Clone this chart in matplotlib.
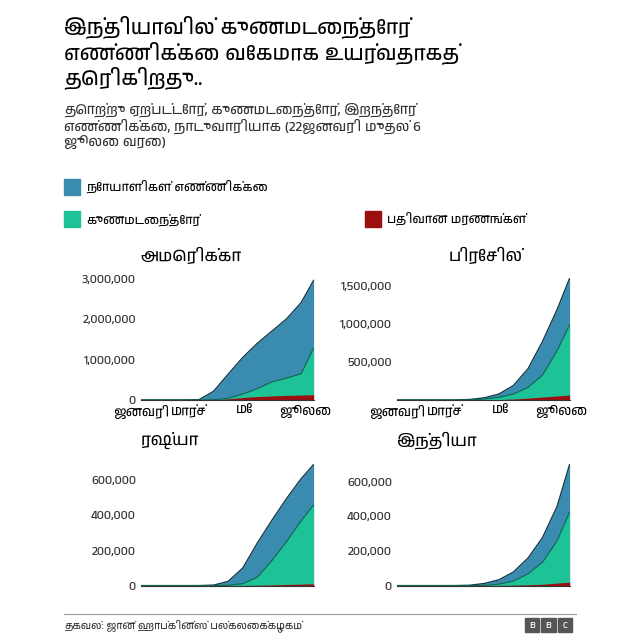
import matplotlib
matplotlib.use("Agg")
import matplotlib.pyplot as plt
import matplotlib.ticker as mticker
import pandas as pd
from matplotlib import font_manager

# pick a font that has Tamil glyphs if one is installed
tamil = [f.name for f in font_manager.fontManager.ttflist if "Tamil" in f.name]
plt.rcParams['font.family'] = tamil[:1] + ['Noto Sans', 'DejaVu Sans']

dates = pd.to_datetime(["2020-01-22", "2020-02-05", "2020-02-19", "2020-03-04", "2020-03-18",
                        "2020-04-01", "2020-04-15", "2020-04-29", "2020-05-13", "2020-05-27",
                        "2020-06-10", "2020-06-24", "2020-07-06"])

us_cases = [1, 12, 15, 150, 9000, 215000, 640000, 1050000, 1400000, 1700000, 2000000, 2400000, 2950000]
us_rec = [0, 0, 5, 8, 100, 8000, 40000, 150000, 280000, 450000, 540000, 650000, 1280000]
us_deaths = [0, 0, 0, 10, 150, 5000, 28000, 60000, 85000, 100000, 113000, 122000, 130000]

br_cases = [0, 0, 0, 3, 300, 6800, 28000, 78000, 190000, 410000, 770000, 1190000, 1600000]
br_rec = [0, 0, 0, 0, 2, 120, 14000, 35000, 79000, 166000, 330000, 650000, 990000]
br_deaths = [0, 0, 0, 0, 4, 240, 1700, 5500, 13000, 25000, 39000, 53000, 65000]

ru_cases = [0, 2, 2, 3, 147, 2800, 24000, 100000, 242000, 371000, 494000, 606000, 687000]
ru_rec = [0, 0, 2, 2, 8, 190, 1700, 11000, 48000, 143000, 250000, 368000, 458000]
ru_deaths = [0, 0, 0, 0, 0, 20, 200, 1000, 2200, 3700, 6400, 8500, 10300]

in_cases = [0, 3, 3, 28, 151, 1998, 12000, 33000, 78000, 158000, 276000, 456000, 697000]
in_rec = [0, 0, 3, 3, 14, 144, 1400, 8300, 26000, 68000, 135000, 258000, 424000]
in_deaths = [0, 0, 0, 0, 3, 58, 400, 1070, 2500, 4500, 7700, 14500, 19700]

countries = ["அமெரிக்கா", "பிரேசில்", "ரஷ்யா", "இந்தியா"]
series = [(us_cases, us_rec, us_deaths), (br_cases, br_rec, br_deaths),
          (ru_cases, ru_rec, ru_deaths), (in_cases, in_rec, in_deaths)]
yticks = [[0, 1000000, 2000000, 3000000], [500000, 1000000, 1500000],
          [0, 200000, 400000, 600000], [0, 200000, 400000, 600000]]
ylims = [3000000, 1600000, 690000, 700000]
month_ticks = pd.to_datetime(["2020-01-22", "2020-03-08", "2020-05-01", "2020-06-28"])
month_labels = ["ஜனவரி", "மார்ச்", "மே", "ஜூலை"]

c_case, c_rec, c_death = "#3a8bb0", "#1dc397", "#9b0f0f"

fig = plt.figure(figsize=(6.4, 6.4), dpi=100)
fig.text(0.1, 0.975, "இந்தியாவில் குணமடைந்தோர்\nஎண்ணிக்கை வேகமாக உயர்வதாகத்\nதெரிகிறது..",
         fontsize=15, fontweight="bold", va="top", linespacing=1.15)
fig.text(0.1, 0.84, "தொற்று ஏற்பட்டோர், குணமடைந்தோர், இறந்தோர்\nஎண்ணிக்கை, நாடுவாரியாக (22ஜனவரி முதல் 6\nஜூலை வரை)",
         fontsize=10, va="top", color="#333333", linespacing=1.1)

def legend_item(x, y, color, label):
    fig.patches.append(plt.Rectangle((x, y), 0.025, 0.025, color=color, transform=fig.transFigure))
    fig.text(x + 0.035, y + 0.012, label, fontsize=9, va="center")

legend_item(0.1, 0.695, c_case, "நோயாளிகள் எண்ணிக்கை")
legend_item(0.1, 0.645, c_rec, "குணமடைந்தோர்")
legend_item(0.57, 0.645, c_death, "பதிவான மரணங்கள்")

positions = [[0.22, 0.375, 0.27, 0.19], [0.62, 0.375, 0.27, 0.19],
             [0.22, 0.085, 0.27, 0.19], [0.62, 0.085, 0.27, 0.19]]
for i in range(4):
    ax = fig.add_axes(positions[i])
    cases, rec, deaths = series[i]
    ax.fill_between(dates, cases, color=c_case, lw=0)
    ax.plot(dates, cases, color="#123a4a", lw=1)
    ax.fill_between(dates, rec, color=c_rec, lw=0)
    ax.plot(dates, rec, color="#0c6b4f", lw=0.8)
    ax.fill_between(dates, deaths, color=c_death, lw=0)
    ax.set_xlim(dates[0], dates[-1])
    ax.set_ylim(0, ylims[i])
    ax.set_yticks(yticks[i])
    ax.yaxis.set_major_formatter(mticker.StrMethodFormatter("{x:,.0f}"))
    for s in ["top", "right", "left"]:
        ax.spines[s].set_visible(False)
    ax.spines["bottom"].set_color("#333333")
    ax.tick_params(axis="y", length=0, labelsize=9, colors="#333333")
    if i < 2:
        ax.set_xticks(month_ticks)
        ax.set_xticklabels(month_labels, fontsize=9.5)
        ax.tick_params(axis="x", length=0)
    else:
        ax.set_xticks([])
    ax.text(0.0 if i != 1 else 0.3, 1.12, countries[i], transform=ax.transAxes,
            fontsize=12, fontweight="bold", va="bottom")

fig.add_artist(plt.Line2D([0.1, 0.9], [0.04, 0.04], color="#999999", lw=0.8, transform=fig.transFigure))
fig.text(0.1, 0.022, "தகவல்: ஜான் ஹாப்கின்ஸ் பல்கலைக்கழகம்", fontsize=7.5, va="center", color="#333333")
for k, ch in enumerate("BBC"):
    x = 0.82 + k * 0.026
    fig.patches.append(plt.Rectangle((x, 0.012), 0.022, 0.022, color="#555555", transform=fig.transFigure))
    fig.text(x + 0.011, 0.023, ch, fontsize=7, color="white", ha="center", va="center", fontweight="bold")

fig.savefig("out.png", dpi=100, facecolor="white")
